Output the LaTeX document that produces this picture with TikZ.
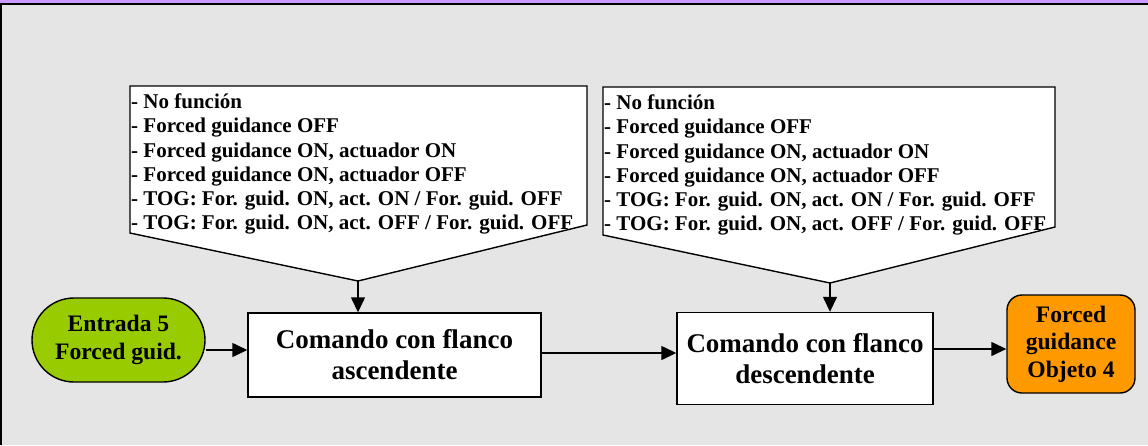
\documentclass[tikz,border=0pt]{standalone}
\usepackage{fontspec}
\setmainfont{Liberation Serif}
\usetikzlibrary{arrows.meta}
\usetikzlibrary{shapes.misc}
\usetikzlibrary{positioning}

\definecolor{fondo}{HTML}{E5E5E5}
\definecolor{lila}{HTML}{CC99FF}
\definecolor{verde}{HTML}{99CC00}
\definecolor{naranja}{HTML}{FF9900}

\tikzset{
    myarrow/.style={-{Triangle[length=15pt,width=14pt]}, line width=1.4pt},
    myline/.style={line width=1.4pt},
    cmdbox/.style={draw, fill=white, line width=1.4pt, align=center, font=\fontsize{27}{31}\selectfont\bfseries},
    endbox/.style={draw, line width=1.4pt, inner sep=0pt, align=center, font=\fontsize{23.6}{27.5}\selectfont\bfseries},
    listtext/.style={inner sep=0pt, align=left, anchor=north west, font=\fontsize{21}{24.3}\selectfont\bfseries}
}

\begin{document}
\begin{tikzpicture}[x=1pt, y=-1pt]

%%%%%%%%%%%%%%%%%%%%%%%%%%%%%%%%%%%%%%%%%%%%%%%%%%%%%%%%%
%                       Fondo                           %
%%%%%%%%%%%%%%%%%%%%%%%%%%%%%%%%%%%%%%%%%%%%%%%%%%%%%%%%%
\useasboundingbox (0,0) rectangle (1148,445);
\fill[fondo] (0,0) rectangle (1148,445);
\fill[lila] (0,0) rectangle (1148,2.5);
\fill[black] (0,2.5) rectangle (1148,5);
\fill[black] (0,2.5) rectangle (2,445);

%entrada
\node[endbox, fill=verde, rounded rectangle, minimum width=173pt, minimum height=84pt] (in) at (118.5,340) {Entrada 5\\Forced guid.};

%comando ascendente
\node[cmdbox, minimum width=293pt, minimum height=84pt] (asc) at (394.5,355) {Comando con flanco\\ascendente};

%comando descendente
\node[cmdbox, minimum width=256pt, minimum height=92pt] (desc) at (805,358.5) {Comando con flanco\\descendente};

%salida
\node[endbox, fill=naranja, rounded corners=15pt, minimum width=128pt, minimum height=98pt] (out) at (1071,344) {Forced\\guidance\\Objeto 4};

%lista izquierda
\coordinate (tipA) at (358,281);
\draw[myline, fill=white] (130,86) -- (587,86) -- (587,225) -- (tipA) -- (130,233) -- cycle;
\node[listtext] (listA) at (131,93.5) {- No función\\- Forced guidance OFF\\- Forced guidance ON, actuador ON\\- Forced guidance ON, actuador OFF\\- TOG: For. guid. ON, act. ON / For. guid. OFF\\- TOG: For. guid. ON, act. OFF / For. guid. OFF};

%lista derecha
\coordinate (tipB) at (830,283);
\draw[myline, fill=white] (603,87) -- (1055,87) -- (1055,227) -- (tipB) -- (603,235) -- cycle;
\node[listtext] (listB) at (604,94.5) {- No función\\- Forced guidance OFF\\- Forced guidance ON, actuador ON\\- Forced guidance ON, actuador OFF\\- TOG: For. guid. ON, act. ON / For. guid. OFF\\- TOG: For. guid. ON, act. OFF / For. guid. OFF};

%flechas
\draw[myarrow] (tipA) -- (tipA |- asc.north);
\draw[myarrow] (tipB) -- (tipB |- desc.north);
\draw[myarrow] ([yshift=-10pt]in.east) -- ([yshift=5pt]asc.west);
\draw[myarrow] ([yshift=2pt]asc.east) -- ([yshift=5.5pt]desc.west);
\draw[myarrow] ([yshift=9.5pt]desc.east) -- ([yshift=-5pt]out.west);

\end{tikzpicture}
\end{document}
